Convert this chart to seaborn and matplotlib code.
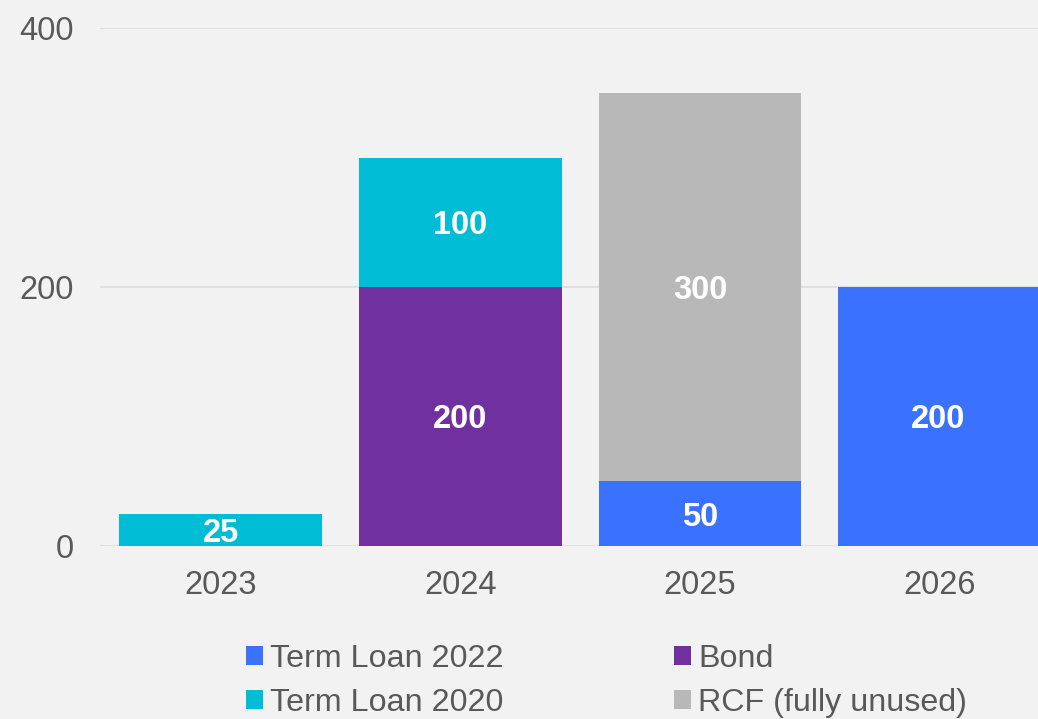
import pandas as pd
import matplotlib.pyplot as plt
import seaborn as sns

# Data
years = ["2023", "2024", "2025", "2026"]
term_loan_2022 = [0, 0, 50, 200]
bond = [0, 200, 0, 0]
term_loan_2020 = [25, 100, 0, 0]
rcf = [0, 0, 300, 0]

series = ["Term Loan 2022", "Bond", "Term Loan 2020", "RCF (fully unused)"]
values = [term_loan_2022, bond, term_loan_2020, rcf]
colors = ["#3a72ff", "#7030a0", "#00bcd4", "#b8b8b8"]

sns.set_style("white")
plt.rcParams["font.family"] = ["Liberation Sans", "DejaVu Sans"]

bg = "#f2f2f2"
txt = "#595959"
fs = 23.5

fig = plt.figure(figsize=(10.38, 7.19), dpi=100, facecolor=bg)
ax = fig.add_axes([100 / 1038, 173 / 719, 938 / 1038, 518 / 719])
ax.set_facecolor(bg)

bottom = [0, 0, 0, 0]
containers = {}
for name, vals, col in zip(series, values, colors):
    df = pd.DataFrame({"year": years, "value": vals})
    sns.barplot(data=df, x="year", y="value", color=col, width=0.846,
                bottom=bottom, linewidth=0, saturation=1, errorbar=None, ax=ax)
    containers[name] = ax.containers[-1]
    labels = [str(v) if v > 0 else "" for v in vals]
    ax.bar_label(ax.containers[-1], labels=labels, label_type="center", padding=-2.5,
                 color="white", fontsize=fs, fontweight="bold")
    bottom = [b + v for b, v in zip(bottom, vals)]

ax.set_ylim(0, 400)
ax.set_xlim(-0.504, 3.41)
ax.set_yticks([0, 200, 400])
ax.set_xlabel("")
ax.set_ylabel("")
ax.grid(axis="y", color="#e0e0e0", linewidth=1.5)
ax.set_axisbelow(True)
sns.despine(ax=ax, left=True, bottom=True, top=True, right=True)
ax.tick_params(axis="y", length=0, pad=19, labelsize=fs, labelcolor=txt)
ax.tick_params(axis="x", length=0, pad=17, labelsize=fs, labelcolor=txt)

# legend: fill column-wise
order = ["Term Loan 2022", "Term Loan 2020", "Bond", "RCF (fully unused)"]
handles = [containers[n] for n in order]
leg = fig.legend(handles, order, loc="upper left", bbox_to_anchor=(246 / 1038, 1 - 644 / 719),
                 ncol=2, frameon=False, fontsize=23.2, handlelength=0.52, handleheight=0.52,
                 handletextpad=0.22, columnspacing=5.3, labelspacing=0.42,
                 borderpad=0, borderaxespad=0)
for t in leg.get_texts():
    t.set_color(txt)

plt.savefig("out.png", dpi=100, facecolor=bg)
